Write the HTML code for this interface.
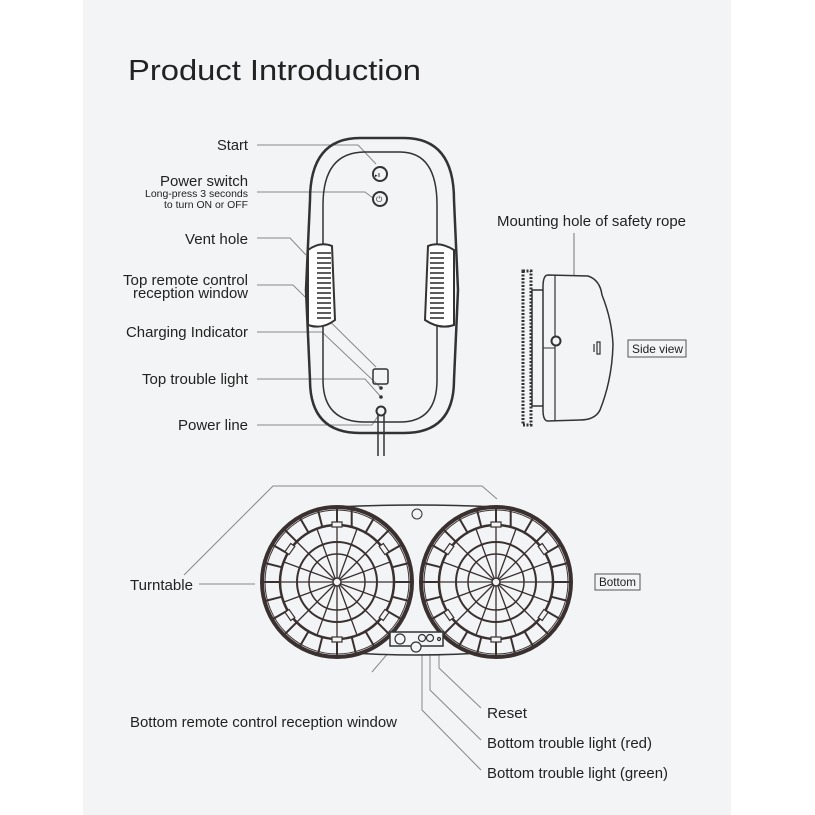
<!DOCTYPE html>
<html><head><meta charset="utf-8"><style>
html,body{margin:0;padding:0;background:#fff;}
svg{display:block;}
text{font-family:"Liberation Sans",sans-serif;fill:#222;}
</style></head><body>
<svg width="815" height="815" viewBox="0 0 815 815" xmlns="http://www.w3.org/2000/svg">
<rect x="83" y="0" width="648" height="815" fill="#f2f4f6"/>
<text x="128" y="80" font-size="29" textLength="293" lengthAdjust="spacingAndGlyphs" fill="#111">Product Introduction</text>

<!-- labels top -->
<g font-size="15" text-anchor="end">
<text x="248" y="150" textLength="31" lengthAdjust="spacingAndGlyphs">Start</text>
<text x="248" y="186" textLength="88" lengthAdjust="spacingAndGlyphs">Power switch</text>
<text x="248" y="197" font-size="10" textLength="103" lengthAdjust="spacingAndGlyphs">Long-press 3 seconds</text>
<text x="248" y="208" font-size="10" textLength="84" lengthAdjust="spacingAndGlyphs">to turn ON or OFF</text>
<text x="248" y="244" textLength="63" lengthAdjust="spacingAndGlyphs">Vent hole</text>
<text x="248" y="285" textLength="125" lengthAdjust="spacingAndGlyphs">Top remote control</text>
<text x="248" y="298" textLength="115" lengthAdjust="spacingAndGlyphs">reception window</text>
<text x="248" y="337" textLength="122" lengthAdjust="spacingAndGlyphs">Charging Indicator</text>
<text x="248" y="384" textLength="106" lengthAdjust="spacingAndGlyphs">Top trouble light</text>
<text x="248" y="430" textLength="70" lengthAdjust="spacingAndGlyphs">Power line</text>
</g>
<g stroke="#888" stroke-width="1" fill="none">
<polyline points="257,145 358,145 376,164"/>
<polyline points="257,192 365,192 373,198"/>
<polyline points="257,238 290,238 306,255"/>
<polyline points="257,285 293,285 376,367"/>
<polyline points="257,332 322,332 381,388"/>
<polyline points="257,379 365,379 381,397"/>
<polyline points="257,425 372,425 378,416"/>
</g>

<!-- top device -->
<g stroke="#333" fill="none">
<path d="M360,138 L404,138 Q454,138 454,200 L458,290 L454,380 Q454,433 404,433 L360,433 Q310,433 310,380 L306,290 L310,200 Q310,138 360,138 Z" stroke-width="2.5"/>
<path d="M365,152 L400,152 Q437,152 437,205 L437,380 Q437,422 400,422 L365,422 Q323,422 323,380 L323,205 Q323,152 365,152 Z" stroke-width="1.5"/>
<path d="M308,250 Q320,241 332,246 L335,320 Q322,330 308,325 Z" fill="#fff" stroke-width="2"/>
<path d="M454,250 Q440,241 428,246 L425,320 Q440,330 454,325 Z" fill="#fff" stroke-width="2"/>
<circle cx="380" cy="174" r="7" stroke-width="2"/>
<circle cx="380" cy="199" r="7" stroke-width="2"/>
<rect x="373" y="369" width="15" height="15" rx="2" stroke-width="1.5"/>
<circle cx="381" cy="411" r="4.5" stroke-width="2"/>
<line x1="378" y1="415" x2="378" y2="456" stroke-width="1.5"/>
<line x1="384" y1="415" x2="384" y2="456" stroke-width="1.5"/>
</g>
<g stroke="#333" stroke-width="1.6">
<line x1="317" y1="253" x2="331" y2="253"/><line x1="317" y1="258" x2="331" y2="258"/><line x1="317" y1="263" x2="331" y2="263"/><line x1="317" y1="268" x2="331" y2="268"/><line x1="317" y1="273" x2="331" y2="273"/><line x1="317" y1="278" x2="331" y2="278"/><line x1="317" y1="283" x2="331" y2="283"/><line x1="317" y1="288" x2="331" y2="288"/><line x1="317" y1="293" x2="331" y2="293"/><line x1="317" y1="298" x2="331" y2="298"/><line x1="317" y1="303" x2="331" y2="303"/><line x1="317" y1="308" x2="331" y2="308"/><line x1="317" y1="313" x2="331" y2="313"/><line x1="317" y1="318" x2="331" y2="318"/>
<line x1="430" y1="253" x2="444" y2="253"/><line x1="430" y1="258" x2="444" y2="258"/><line x1="430" y1="263" x2="444" y2="263"/><line x1="430" y1="268" x2="444" y2="268"/><line x1="430" y1="273" x2="444" y2="273"/><line x1="430" y1="278" x2="444" y2="278"/><line x1="430" y1="283" x2="444" y2="283"/><line x1="430" y1="288" x2="444" y2="288"/><line x1="430" y1="293" x2="444" y2="293"/><line x1="430" y1="298" x2="444" y2="298"/><line x1="430" y1="303" x2="444" y2="303"/><line x1="430" y1="308" x2="444" y2="308"/><line x1="430" y1="313" x2="444" y2="313"/><line x1="430" y1="318" x2="444" y2="318"/>
</g>
<circle cx="381" cy="388" r="1.8" fill="#333"/><circle cx="381" cy="397" r="1.8" fill="#333"/>
<text x="375" y="177" font-size="5" fill="#333">▸II</text>
<text x="376" y="202" font-size="8" fill="#333">⏻</text>

<!-- side view -->
<text x="497" y="226" font-size="15" textLength="189" lengthAdjust="spacingAndGlyphs">Mounting hole of safety rope</text>
<polyline points="574,233 574,326 558,338" stroke="#777" fill="none"/>
<rect x="523" y="271" width="8" height="154" fill="none" stroke="#333" stroke-width="3" stroke-dasharray="2 1.5"/>
<rect x="532" y="290" width="12" height="116" fill="none" stroke="#333" stroke-width="1.5"/>
<path d="M548,275 L588,276 Q600,280 602,295 Q612,320 613,345 Q612,380 600,410 Q595,420 580,420 L548,421 Q543,421 543,410 L543,287 Q543,275 548,275 Z" fill="#f2f4f6" stroke="#333" stroke-width="1.5"/>
<line x1="555" y1="275" x2="555" y2="421" stroke="#333" stroke-width="1.2"/>
<line x1="543" y1="348" x2="555" y2="348" stroke="#333"/>
<circle cx="556" cy="341" r="4.5" fill="#f2f4f6" stroke="#333" stroke-width="2"/>
<path d="M594,344 v8 M597,342 h3 v12 h-3 z" stroke="#333" fill="none" stroke-width="1.2"/>
<rect x="628" y="340" width="58" height="17" fill="none" stroke="#555"/>
<text x="632" y="353" font-size="12" textLength="51" lengthAdjust="spacingAndGlyphs">Side view</text>

<!-- bottom view -->
<g stroke="#888" fill="none">
<polyline points="184,575 273,486 482,486 497,499"/>
<line x1="199" y1="584" x2="255" y2="584"/>
<polyline points="372,672 395,645"/>
<polyline points="439,651 439,668 481,708"/>
<polyline points="430,651 430,690 481,740"/>
<polyline points="422,651 422,710 481,770"/>
</g>
<g font-size="15">
<text x="130" y="590" textLength="63" lengthAdjust="spacingAndGlyphs">Turntable</text>
<text x="130" y="727" textLength="267" lengthAdjust="spacingAndGlyphs">Bottom remote control reception window</text>
<text x="487" y="718" textLength="40" lengthAdjust="spacingAndGlyphs">Reset</text>
<text x="487" y="748" textLength="165" lengthAdjust="spacingAndGlyphs">Bottom trouble light (red)</text>
<text x="487" y="778" textLength="181" lengthAdjust="spacingAndGlyphs">Bottom trouble light (green)</text>
</g>
<rect x="595" y="574" width="45" height="16" fill="none" stroke="#555"/>
<text x="599" y="586" font-size="12" textLength="37" lengthAdjust="spacingAndGlyphs">Bottom</text>

<path d="M337,507 Q416,503 496,507 L496,652 Q416,658 337,652 Z" fill="#f2f4f6" stroke="#333" stroke-width="1.5"/>
<circle cx="417" cy="514" r="5" fill="none" stroke="#333"/>
<defs>
<g id="wh">
<circle r="75" fill="#f2f4f6" stroke="#3a3030" stroke-width="4"/>
<circle r="72" fill="none" stroke="#3a3030" stroke-width="1"/>
<circle r="57" fill="none" stroke="#3a3030" stroke-width="2.5"/>
<circle r="40" fill="none" stroke="#3a3030" stroke-width="2"/>
<circle r="28" fill="none" stroke="#3a3030" stroke-width="1.5"/>
<circle r="4" fill="none" stroke="#3a3030" stroke-width="1.5"/>
<g stroke="#3a3030" stroke-width="2">
<path d="M0,-57V-75M14.7,-55V-72M28.5,-49.4L37,-64M40.3,-40.3L52,-52M49.4,-28.5L64,-37M55,-14.7L72,-19M57,0H75M55,14.7L72,19M49.4,28.5L64,37M40.3,40.3L52,52M28.5,49.4L37,64M14.7,55L19,72M0,57V75M-14.7,55L-19,72M-28.5,49.4L-37,64M-40.3,40.3L-52,52M-49.4,28.5L-64,37M-55,14.7L-72,19M-57,0H-75M-55,-14.7L-72,-19M-49.4,-28.5L-64,-37M-40.3,-40.3L-52,-52M-28.5,-49.4L-37,-64M-14.7,-55L-19,-72"/>
</g>
<g stroke="#3a3030" stroke-width="1.3">
<path d="M0,-4V-57M0,4V57M-4,0H-57M4,0H57M3,-3L40,-40M-3,-3L-40,-40M3,3L40,40M-3,3L-40,40M2,-4L20,-53M-2,4L-20,53M4,-2L53,-20M-4,2L-53,20M2,4L20,53M-2,-4L-20,-53M4,2L53,20M-4,-2L-53,-20"/>
</g>
<g fill="#f2f4f6" stroke="#3a3030" stroke-width="1.2">
<rect x="-5" y="-60" width="10" height="5"/><rect x="-5" y="55" width="10" height="5"/>
<rect x="-60" y="-5" width="5" height="10" transform="rotate(35)"/><rect x="55" y="-5" width="5" height="10" transform="rotate(35)"/>
<rect x="-60" y="-5" width="5" height="10" transform="rotate(-35)"/><rect x="55" y="-5" width="5" height="10" transform="rotate(-35)"/>
</g>
</g>
</defs>
<use href="#wh" x="337" y="582"/>
<use href="#wh" x="496" y="582"/>
<rect x="390" y="632" width="53" height="14" fill="#f2f4f6" stroke="#333" stroke-width="1.5"/>
<g fill="#f2f4f6" stroke="#333" stroke-width="1.2">
<circle cx="400" cy="639" r="5"/><circle cx="422" cy="638" r="3.5"/><circle cx="430" cy="638" r="3.5"/><circle cx="439" cy="639" r="1.5"/><circle cx="416" cy="647" r="5"/>
</g>
</svg>
</body></html>
